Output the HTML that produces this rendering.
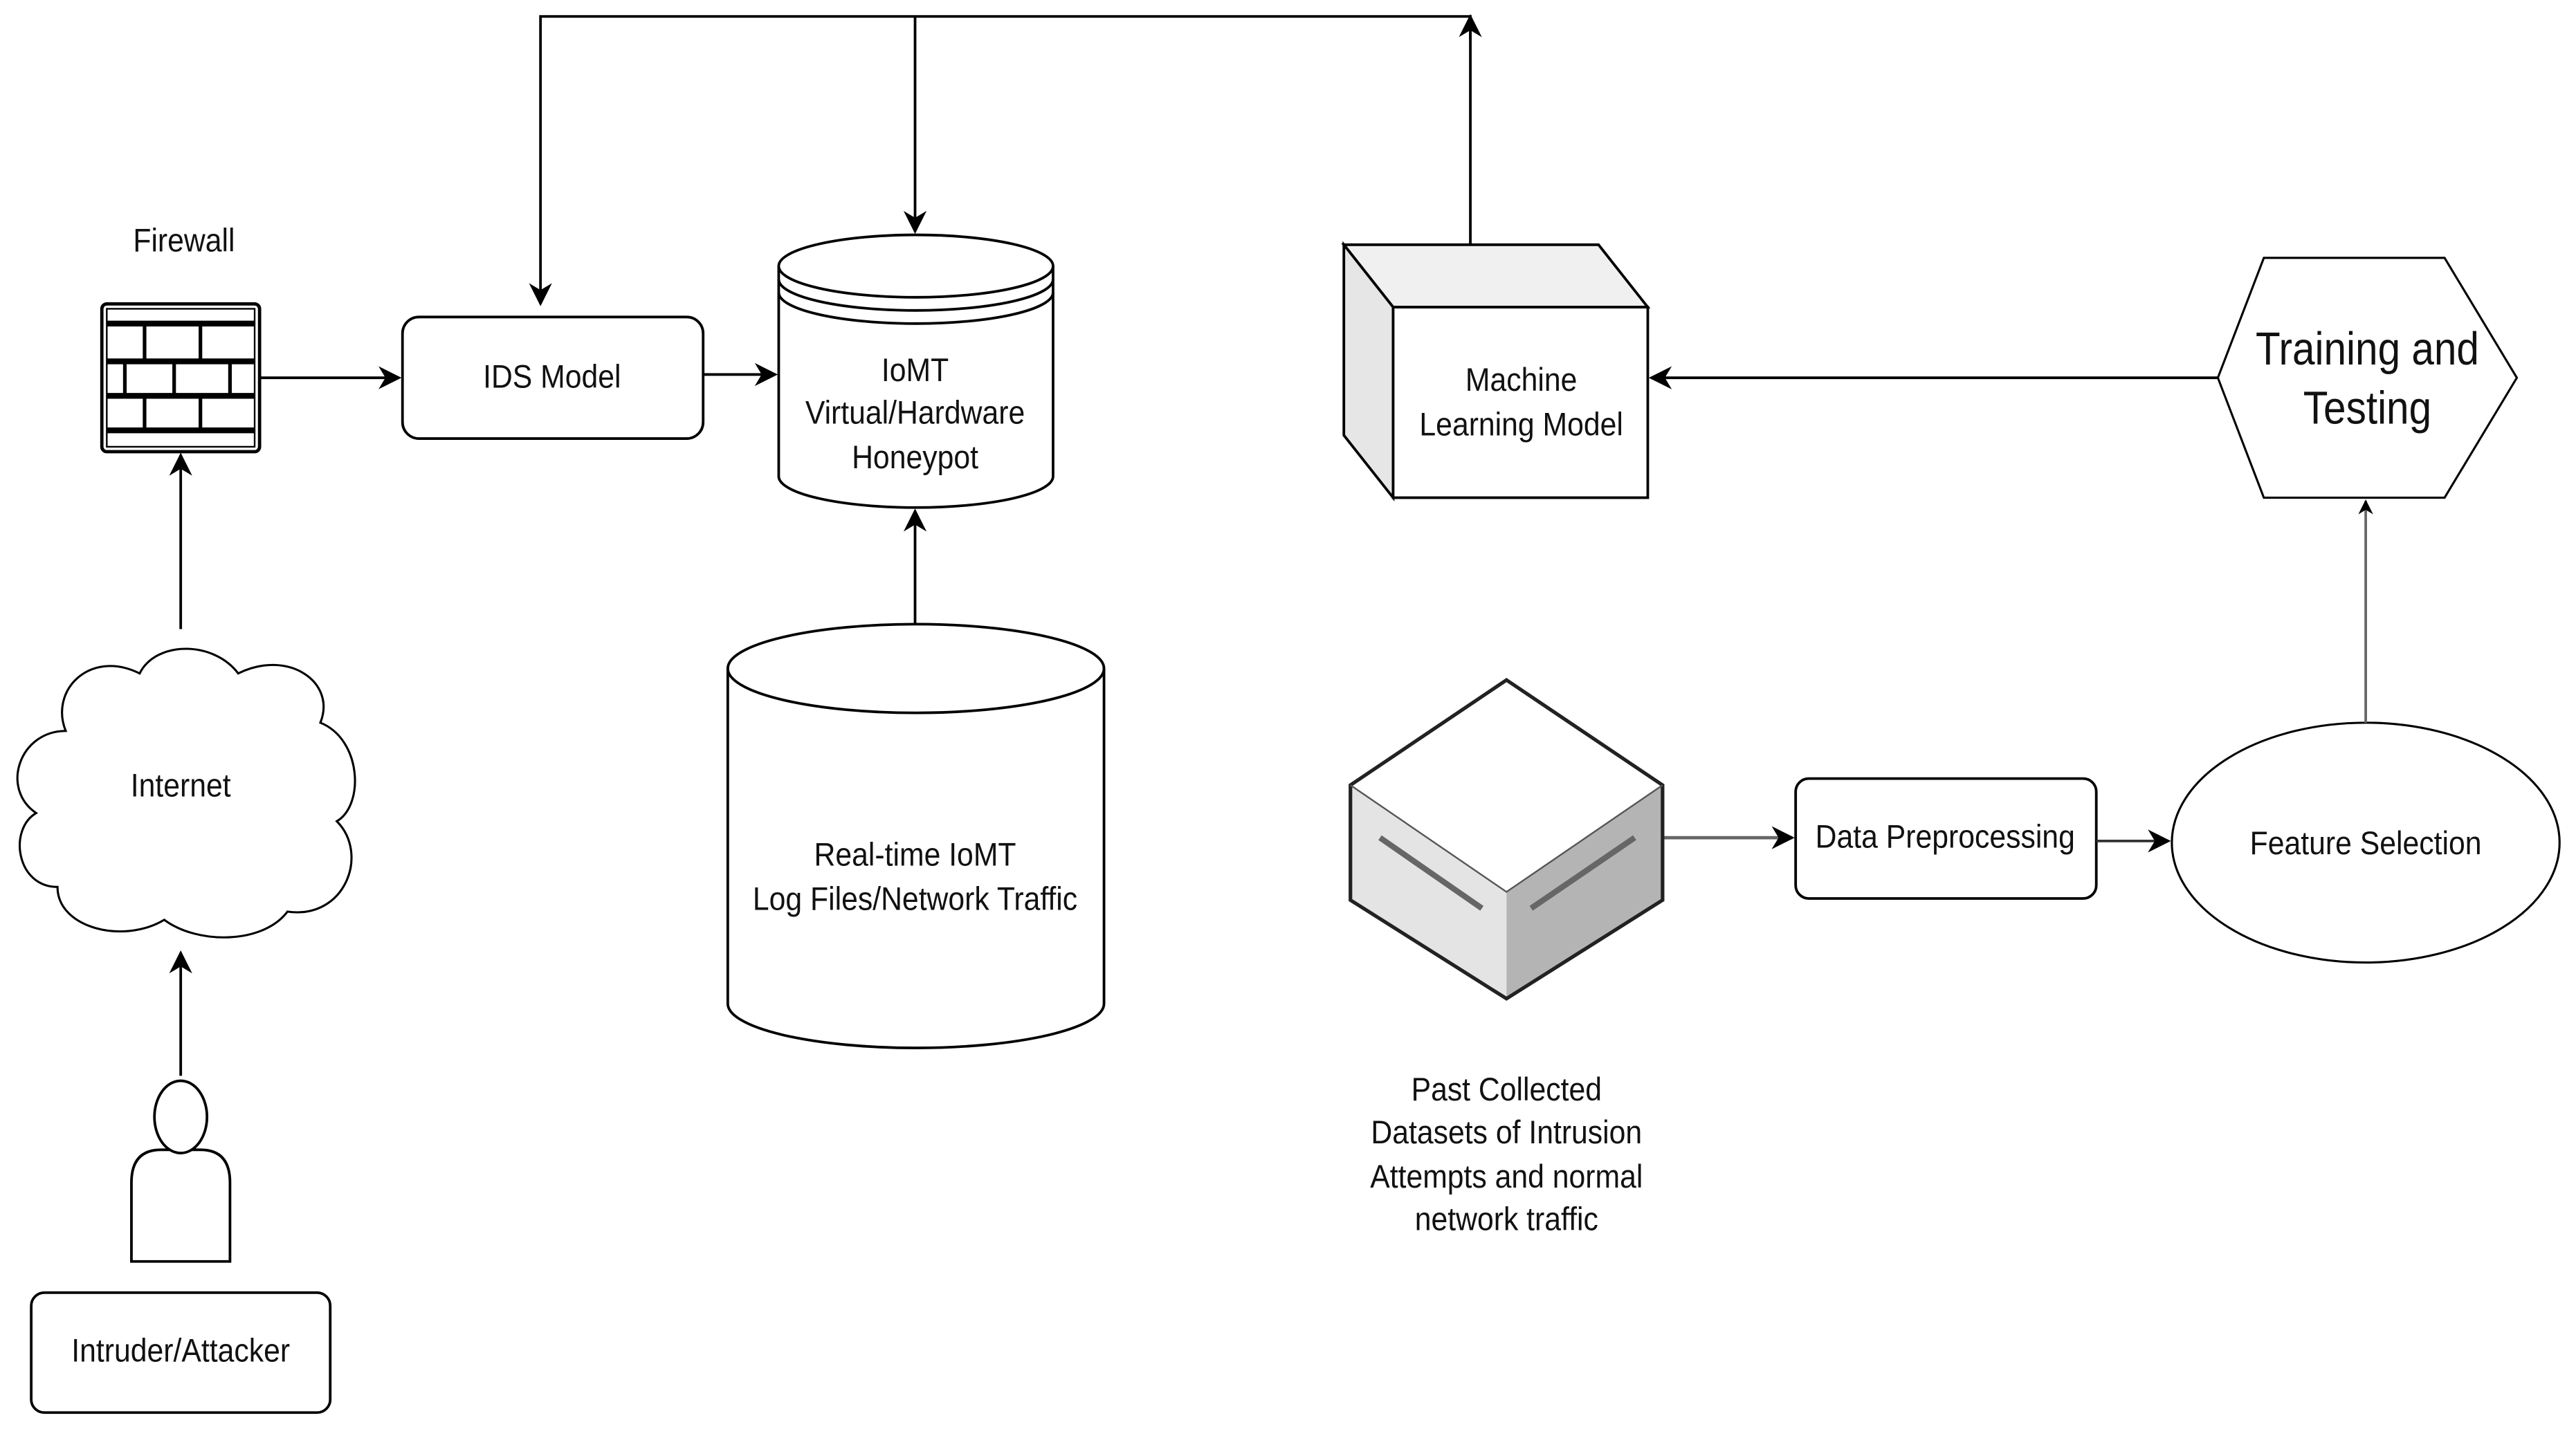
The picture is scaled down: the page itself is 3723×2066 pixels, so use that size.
<!DOCTYPE html>
<html><head><meta charset="utf-8"><style>
html,body{margin:0;padding:0;background:#fff;}
svg{display:block;}
text{font-family:"Liberation Sans",sans-serif;fill:#111;text-anchor:middle;}
</style></head><body>
<svg width="3723" height="2066" viewBox="0 0 1568 870" preserveAspectRatio="none" xmlns="http://www.w3.org/2000/svg">
<defs>
<marker id="ag" viewBox="0 0 10 10" refX="9" refY="5" markerWidth="9" markerHeight="9" orient="auto" markerUnits="userSpaceOnUse">
<path d="M0,0 L10,5 L0,10 L3,5 z" fill="#000"/></marker>
<marker id="A" viewBox="0 0 10 10" refX="9" refY="5" markerWidth="14" markerHeight="14" orient="auto" markerUnits="userSpaceOnUse">
<path d="M0,0 L10,5 L0,10 L3,5 z" fill="#000"/></marker>
</defs>
<g fill="none" stroke="#000" stroke-width="1.6">
<polyline points="895,149 895,10 329,10 329,185" marker-end="url(#A)"/>
<line x1="895" y1="24" x2="895" y2="10" marker-end="url(#A)"/>
<line x1="557" y1="10" x2="557" y2="141" marker-end="url(#A)"/>
<rect x="62" y="185" width="96" height="90" rx="3" stroke-width="2"/>
<rect x="65" y="188" width="90" height="84" fill="#fff" stroke-width="1"/>
<g stroke-width="3.5">
<line x1="65" y1="197" x2="155" y2="197"/><line x1="65" y1="220" x2="155" y2="220"/>
<line x1="65" y1="241" x2="155" y2="241"/><line x1="65" y1="262" x2="155" y2="262"/>
</g>
<g stroke-width="2.2">
<line x1="88" y1="197" x2="88" y2="220"/><line x1="122" y1="197" x2="122" y2="220"/>
<line x1="76" y1="220" x2="76" y2="241"/><line x1="106" y1="220" x2="106" y2="241"/><line x1="140" y1="220" x2="140" y2="241"/>
<line x1="88" y1="241" x2="88" y2="262"/><line x1="122" y1="241" x2="122" y2="262"/>
</g>
<line x1="158" y1="230" x2="243" y2="230" marker-end="url(#A)"/>
<rect x="245" y="193" width="183" height="74" rx="10"/>
<line x1="428" y1="228" x2="472" y2="228" marker-end="url(#A)"/>
<path d="M474,162 L474,290 A83.5,19 0 0 0 641,290 L641,162" fill="#fff"/>
<ellipse cx="557.5" cy="162" rx="83.5" ry="19" fill="#fff"/>
<path d="M474,170 A83.5,19 0 0 0 641,170"/>
<path d="M474,178 A83.5,19 0 0 0 641,178"/>
<path d="M443,407 L443,611 A114.5,27 0 0 0 672,611 L672,407"/>
<ellipse cx="557.5" cy="407" rx="114.5" ry="27"/>
<line x1="557" y1="380" x2="557" y2="311" marker-end="url(#A)"/>
<path d="M818,149 L973,149 L1003,187 L848,187 z" fill="#f0f0f0"/>
<path d="M818,149 L848,187 L848,303 L818,265 z" fill="#e6e6e6"/>
<rect x="848" y="187" width="155" height="116" fill="#fff"/>
<path d="M1350,230 L1378,157 L1488,157 L1532,230 L1488,303 L1378,303 z" stroke-width="1.3"/>
<line x1="1350" y1="230" x2="1005" y2="230" marker-end="url(#A)"/>
<ellipse cx="1440" cy="513" rx="118" ry="73" stroke-width="1.3"/>
<line x1="1440" y1="440" x2="1440" y2="305" stroke="#666" marker-end="url(#ag)"/>
<rect x="1093" y="474" width="183" height="73" rx="8"/>
<line x1="1276" y1="512" x2="1320" y2="512" stroke="#333" marker-end="url(#A)"/>
<line x1="1012" y1="510" x2="1091" y2="510" stroke="#666" stroke-width="2" marker-end="url(#A)"/>
<path d="M917,414 L1012,478 L917,543 L822,478 z" fill="#fff" stroke="none"/>
<path d="M822,478 L917,543 L917,608 L822,548 z" fill="#e4e4e4" stroke="none"/>
<path d="M917,543 L1012,478 L1012,548 L917,608 z" fill="#b4b4b4" stroke="none"/>
<path d="M917,414 L1012,478 L1012,548 L917,608 L822,548 L822,478 z" stroke="#222" stroke-width="2.2"/>
<path d="M822,478 L917,543 L1012,478" stroke="#555" stroke-width="1"/>
<line x1="840" y1="510" x2="902" y2="553" stroke="#666" stroke-width="3.5"/>
<line x1="932" y1="553" x2="995" y2="510" stroke="#666" stroke-width="3.5"/>
<path d="M40,445 C30,420 55,395 85,410 C95,390 130,390 145,410 C175,395 205,415 195,440 C220,450 222,490 205,500 C225,520 210,560 175,555 C160,575 120,575 100,560 C75,575 35,565 35,540 C10,540 5,505 22,495 C0,480 12,445 40,445 z" stroke-width="1.3"/>
<line x1="110" y1="383" x2="110" y2="277" marker-end="url(#A)"/>
<line x1="110" y1="655" x2="110" y2="580" marker-end="url(#A)"/>
<path d="M80,768 L80,720 Q80,700 98,700 L122,700 Q140,700 140,720 L140,768 z" fill="#fff"/>
<ellipse cx="110" cy="680" rx="16" ry="22" fill="#fff"/>
<rect x="19" y="787" width="182" height="73" rx="8"/>
</g>
<g font-size="20">
<text transform="translate(112,153) scale(0.9,1)">Firewall</text>
<text transform="translate(336,236) scale(0.9,1)">IDS Model</text>
<text transform="translate(557,232) scale(0.9,1)">IoMT</text>
<text transform="translate(557,258) scale(0.9,1)">Virtual/Hardware</text>
<text transform="translate(557,285) scale(0.9,1)">Honeypot</text>
<text transform="translate(557,527) scale(0.9,1)">Real-time IoMT</text>
<text transform="translate(557,554) scale(0.9,1)">Log Files/Network Traffic</text>
<text transform="translate(926,238) scale(0.9,1)">Machine</text>
<text transform="translate(926,265) scale(0.9,1)">Learning Model</text>
<text transform="translate(1184,516) scale(0.9,1)">Data Preprocessing</text>
<text transform="translate(1440,520) scale(0.9,1)">Feature Selection</text>
<text transform="translate(110,485) scale(0.9,1)">Internet</text>
<text transform="translate(110,829) scale(0.9,1)">Intruder/Attacker</text>
<text transform="translate(917,670) scale(0.9,1)">Past Collected</text>
<text transform="translate(917,696) scale(0.9,1)">Datasets of Intrusion</text>
<text transform="translate(917,723) scale(0.9,1)">Attempts and normal</text>
<text transform="translate(917,749) scale(0.9,1)">network traffic</text>
</g>
<g font-size="28">
<text transform="translate(1441,222) scale(0.88,1)">Training and</text>
<text transform="translate(1441,258) scale(0.88,1)">Testing</text>
</g>
</svg>
</body></html>
